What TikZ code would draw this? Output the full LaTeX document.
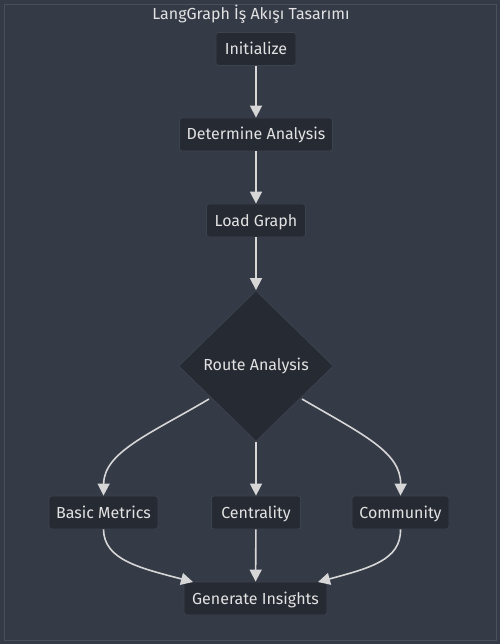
\documentclass[tikz,border=0pt]{standalone}
\usepackage{fontspec}
\setmainfont{Fira Sans}
\usetikzlibrary{arrows.meta,shapes.geometric}
\definecolor{bg}{HTML}{353A47}
\definecolor{nodefill}{HTML}{262A33}
\definecolor{nodeline}{HTML}{3E424D}
\definecolor{frameline}{HTML}{4A4F5C}
\definecolor{txt}{HTML}{E2E2E2}
\definecolor{edge}{HTML}{D6D6D6}
\tikzset{
  box/.style={rectangle, rounded corners=2.5pt, fill=nodefill, draw=nodeline, line width=0.8pt, text=txt, font=\fontsize{16}{19}\selectfont, minimum height=33pt, inner xsep=4pt, text height=13pt, text depth=2pt},
  decision/.style={diamond, fill=nodefill, draw=nodeline, line width=0.8pt, text=txt, font=\fontsize{16}{19}\selectfont, minimum width=155pt, minimum height=151pt, inner sep=0pt},
  flow/.style={draw=edge, line width=1.6pt, -{Triangle[length=12pt,width=12pt]}}
}
\begin{document}
\begin{tikzpicture}[x=1pt,y=-1pt]
\fill[bg] (0,0) rectangle (500,644);
\useasboundingbox (0,0) rectangle (500,644);
\draw[frameline, line width=0.8pt] (4.5,4.5) rectangle (496.5,640.5);
\node[text=txt, font=\fontsize{16}{19}\selectfont] (title) at (251,14) {LangGraph İş Akışı Tasarımı};
\node[box, minimum width=80pt] (init) at (256,49) {Initialize};
\node[box, minimum width=153pt] (det) at (256,134.5) {Determine Analysis};
\node[box, minimum width=99pt] (load) at (256,220.5) {Load Graph};
\node[decision] (route) at (256,366) {Route Analysis};
\node[box, minimum width=109pt] (basic) at (103.5,512.5) {Basic Metrics};
\node[box, minimum width=89pt] (cent) at (256,512.5) {Centrality};
\node[box, minimum width=97pt] (comm) at (400.5,512.5) {Community};
\node[box, minimum width=143pt] (gen) at (255.5,598.5) {Generate Insights};
\coordinate (rl) at (209,399);
\coordinate (rr) at (302,399);
\coordinate (gl) at (193,582);
\coordinate (gr) at (318,582);
\draw[flow] (init) -- (det);
\draw[flow] (det) -- (load);
\draw[flow] (load) -- (route);
\draw[flow] (rl) .. controls (150,434) and (104,452) .. (basic.north);
\draw[flow] (route) -- (cent);
\draw[flow] (rr) .. controls (362,434) and (401,452) .. (comm.north);
\draw[flow] (basic.south) .. controls (104,560) and (140,568) .. (gl);
\draw[flow] (cent) -- (gen);
\draw[flow] (comm.south) .. controls (401,560) and (370,568) .. (gr);
\end{tikzpicture}
\end{document}
